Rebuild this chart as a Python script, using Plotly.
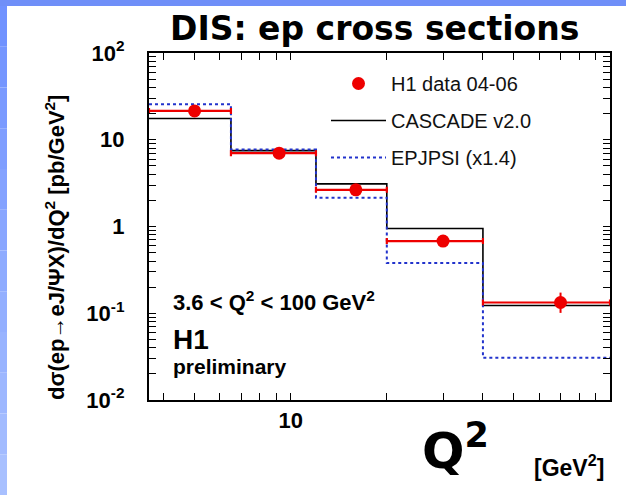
import plotly.graph_objects as go

# Q^2 binning [GeV^2] and bin centres of the measurement
q2_edges = [3.6, 6.5, 12.0, 20.0, 40.0, 100.0]
q2_centres = [5.0, 9.2, 16.0, 30.0, 70.0]

# H1 data 04-06: d sigma / dQ^2 [pb/GeV^2]
h1_xsec = [21.5, 7.0, 2.65, 0.68, 0.133]
h1_err_up = [1.8, 0.5, 0.22, 0.06, 0.040]
h1_err_dn = [1.8, 0.5, 0.22, 0.06, 0.032]

# Model predictions per bin
cascade_xsec = [17.6, 7.5, 3.1, 0.95, 0.123]
epjpsi_xsec = [25.7, 7.7, 2.15, 0.38, 0.0306]

# Axis decorations
y_tickvals = [0.01, 0.1, 1, 10, 100]
y_ticktext = ["10<sup>-2</sup>", "10<sup>-1</sup>", "1", "10", "10<sup>2</sup>"]
x_tickvals = [10, 100]
x_ticktext = ["10", "10<sup>2</sup>"]
y_minor = [m * d for d in (0.01, 0.1, 1, 10) for m in range(2, 10)]
x_minor = [m * d for d in (1, 10) for m in range(2, 10) if 3.6 <= m * d <= 100]

X_RANGE = [0.5563, 2]
Y_RANGE = [-2, 2]

FONT = "Liberation Sans, Arial, Helvetica, sans-serif"
COMIC = "Comic Sans MS, DejaVu Sans, sans-serif"
NBSP = "\u00a0"


def step_xy(edges, values):
    """Histogram outline: left edge of each bin plus closing right edge."""
    return list(edges), list(values) + [values[-1]]


def all_ticks(major, major_text, minor, pad=""):
    """Tick positions for every decade subdivision; only decades get a label."""
    vals = sorted(set(major) | set(minor))
    labels = dict(zip(major, major_text))
    return vals, [labels[v] + pad if v in labels else "" for v in vals]


fig = go.Figure()

cx, cy = step_xy(q2_edges, cascade_xsec)
fig.add_trace(go.Scatter(
    x=cx, y=cy, mode="lines", line_shape="hv",
    line=dict(color="black", width=1.6),
    name="CASCADE v2.0", legendgroup="b", legendrank=2,
))

ex, ey = step_xy(q2_edges, epjpsi_xsec)
fig.add_trace(go.Scatter(
    x=ex, y=ey, mode="lines", line_shape="hv",
    line=dict(color="#2233cc", width=2, dash="dot"),
    name="EPJPSI (x1.4)", legendgroup="c", legendrank=3,
))

fig.add_trace(go.Scatter(
    x=q2_centres, y=h1_xsec, mode="markers",
    marker=dict(color="#ee0000", size=13),
    error_x=dict(
        type="data", symmetric=False,
        array=[hi - c for hi, c in zip(q2_edges[1:], q2_centres)],
        arrayminus=[c - lo for lo, c in zip(q2_edges[:-1], q2_centres)],
        color="#ee0000", thickness=2.2, width=3,
    ),
    error_y=dict(
        type="data", symmetric=False,
        array=h1_err_up, arrayminus=h1_err_dn,
        color="#ee0000", thickness=2, width=0,
    ),
    name="H1 data 04-06", legendgroup="a", legendrank=1,
))

xv, xt = all_ticks(x_tickvals, x_ticktext, x_minor)
# trailing spaces keep the y labels clear of the frame
yv, yt = all_ticks(y_tickvals, y_ticktext, y_minor, pad=NBSP * 3)

fig.update_xaxes(
    type="log", range=X_RANGE, showgrid=False, zeroline=False,
    showline=True, linecolor="black", linewidth=1.5, mirror="allticks",
    ticks="inside", ticklen=7, tickwidth=1.2, tickcolor="black",
    tickmode="array", tickvals=xv, ticktext=xt,
    tickfont=dict(family=FONT, size=22, color="black", weight="bold"),
)
fig.update_yaxes(
    type="log", range=Y_RANGE, showgrid=False, zeroline=False,
    showline=True, linecolor="black", linewidth=1.5, mirror="allticks",
    ticks="inside", ticklen=7, tickwidth=1.2, tickcolor="black",
    tickmode="array", tickvals=yv, ticktext=yt,
    tickfont=dict(family=FONT, size=22, color="black", weight="bold"),
)

# slide frame: blue band on top, shaded strip on the left
shapes = [dict(type="rect", xref="paper", yref="paper",
               x0=-149 / 461, x1=477 / 461, y0=(400 - 6) / 347, y1=495 / 347,
               fillcolor="#6f8ff8", line_width=0, layer="below")]
n_strip = 12
for i in range(n_strip):
    t = i / (n_strip - 1)
    r = int(0x70 + t * (0xa8 - 0x70))
    g = int(0x92 + t * (0xc0 - 0x92))
    shapes.append(dict(
        type="rect", xref="paper", yref="paper",
        x0=-149 / 461, x1=(7 - 149) / 461,
        y0=(400 - (6 + (i + 1) * 489 / n_strip)) / 347,
        y1=(400 - (6 + i * 489 / n_strip)) / 347,
        fillcolor=f"rgb({r},{g},255)", line_width=0, layer="below"))

annotations = [
    dict(text="DIS: ep cross sections", x=374, y=29,
         font=dict(family=COMIC, size=33, color="black", weight="bold")),
    dict(text="dσ(ep→eJ/ΨX)/dQ<sup>2</sup> [pb/GeV<sup>2</sup>]", x=55, y=248,
         textangle=-90, font=dict(family=FONT, size=22, color="black", weight="bold")),
    dict(text="3.6 < Q<sup>2</sup> < 100 GeV<sup>2</sup>", x=171, y=301, xanchor="left",
         font=dict(family=FONT, size=22, color="black", weight="bold")),
    dict(text="H1", x=171, y=339, xanchor="left",
         font=dict(family=FONT, size=28, color="black", weight="bold")),
    dict(text="preliminary", x=171, y=366, xanchor="left",
         font=dict(family=FONT, size=21, color="black", weight="bold")),
    dict(text="Q<sup>2</sup>", x=455, y=447,
         font=dict(family=COMIC, size=50, color="black", weight="bold")),
    dict(text="[GeV<sup>2</sup>]", x=569, y=466,
         font=dict(family=FONT, size=23, color="black", weight="bold")),
]
# annotation positions given in page pixels, converted to paper units
for a in annotations:
    a["x"] = (a["x"] - 149) / 461
    a["y"] = (400 - a["y"]) / 347
    a["xref"] = "paper"
    a["yref"] = "paper"
    a["showarrow"] = False
    a.setdefault("xanchor", "center")
    a["yanchor"] = "middle"

fig.update_layout(
    width=626, height=495,
    margin=dict(l=149, r=16, t=53, b=95),
    paper_bgcolor="white", plot_bgcolor="white",
    shapes=shapes, annotations=annotations,
    showlegend=True,
    legend=dict(
        x=(326 - 149) / 461, y=(400 - 64) / 347, xanchor="left", yanchor="top",
        bgcolor="rgba(0,0,0,0)", borderwidth=0,
        font=dict(family=FONT, size=20, color="#111111"),
        tracegroupgap=8, itemwidth=55,
    ),
)

fig.write_html("out.html")
